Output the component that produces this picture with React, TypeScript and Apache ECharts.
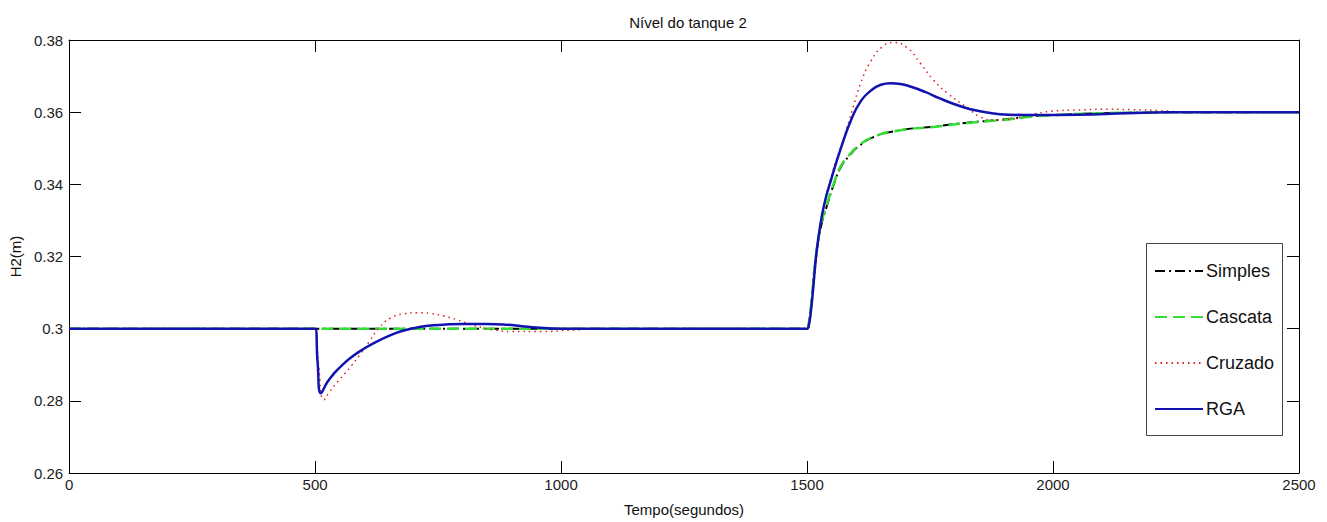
import React, { useEffect, useRef } from "react";
import * as echarts from "echarts";

const xTicks = [0, 500, 1000, 1500, 2000, 2500];
const yTicks = [0.26, 0.28, 0.3, 0.32, 0.34, 0.36, 0.38];

const seriesNames = ["Simples", "Cascata", "Cruzado", "RGA"];

const simplesT = [0, 500, 1000, 1500, 1504, 1510, 1517, 1528, 1541, 1555, 1568, 1585, 1602, 1635, 1690, 1757, 1826, 1893, 1954, 2000, 2100, 2200, 2260, 2500];
const simplesV = [0.3, 0.3, 0.3, 0.3, 0.3018, 0.3088, 0.3185, 0.328, 0.3343, 0.3402, 0.3446, 0.3478, 0.3502, 0.3531, 0.355, 0.356, 0.3571, 0.3579, 0.3588, 0.3592, 0.3597, 0.3599, 0.36, 0.36];

const cascataT = [0, 500, 1000, 1500, 1504, 1510, 1517, 1528, 1541, 1555, 1568, 1585, 1602, 1635, 1690, 1757, 1826, 1893, 1954, 2000, 2100, 2200, 2260, 2500];
const cascataV = [0.3, 0.3, 0.3, 0.3, 0.302, 0.309, 0.319, 0.3285, 0.3347, 0.3405, 0.3449, 0.348, 0.3504, 0.3532, 0.355, 0.3559, 0.357, 0.3578, 0.3587, 0.3592, 0.3597, 0.3599, 0.36, 0.36];

const cruzadoT = [0, 500, 507, 518, 530, 545, 560, 575, 590, 610, 630, 654, 680, 708, 735, 762, 790, 815, 840, 865, 900, 960, 1020, 1100, 1500, 1505, 1510, 1518, 1530, 1551, 1575, 1592, 1609, 1629, 1653, 1676, 1704, 1730, 1757, 1785, 1826, 1852, 1880, 1910, 1950, 2000, 2050, 2100, 2160, 2232, 2260, 2500];
const cruzadoV = [0.3, 0.3, 0.29, 0.2803, 0.2826, 0.2852, 0.2875, 0.2899, 0.2926, 0.2964, 0.3002, 0.303, 0.3041, 0.3044, 0.3042, 0.3035, 0.3024, 0.3012, 0.3003, 0.2996, 0.2992, 0.2992, 0.2996, 0.3, 0.3, 0.3015, 0.307, 0.318, 0.331, 0.343, 0.353, 0.3606, 0.368, 0.374, 0.3781, 0.3793, 0.3778, 0.3736, 0.3689, 0.3653, 0.3612, 0.3587, 0.3578, 0.358, 0.3592, 0.3603, 0.3606, 0.3608, 0.3607, 0.3603, 0.36, 0.36];

const rgaT = [0, 500, 505, 512, 525, 540, 555, 575, 600, 625, 650, 675, 700, 730, 760, 800, 850, 890, 920, 950, 1000, 1500, 1503, 1508, 1513, 1518, 1525, 1535, 1550, 1570, 1590, 1610, 1630, 1650, 1670, 1690, 1710, 1740, 1770, 1800, 1830, 1866, 1910, 1960, 2050, 2150, 2232, 2500];
const rgaV = [0.3, 0.3, 0.291, 0.2821, 0.2852, 0.2878, 0.2899, 0.2922, 0.2945, 0.2964, 0.298, 0.2993, 0.3001, 0.3008, 0.3011, 0.3013, 0.3013, 0.3011, 0.3007, 0.3003, 0.3, 0.3, 0.3005, 0.305, 0.312, 0.3195, 0.327, 0.3345, 0.3418, 0.3505, 0.358, 0.3632, 0.366, 0.3676, 0.368, 0.3678, 0.3671, 0.3656, 0.3638, 0.3622, 0.3609, 0.3599, 0.3593, 0.3592, 0.3593, 0.3597, 0.36, 0.36];

const FONT = "'Liberation Sans', Arial, sans-serif";

function pairs(t: number[], v: number[]) {
  return t.map((x, i) => [x, v[i]]);
}

export default function App() {
  const ref = useRef<HTMLDivElement>(null);
  useEffect(() => {
    if (!ref.current) return;
    const chart = echarts.init(ref.current, null, { renderer: "svg" });
    const axisCommon = {
      type: "value" as const,
      axisLine: { show: true, onZero: false, lineStyle: { color: "#000", width: 1 } },
      axisTick: { show: true, inside: true, length: 12, lineStyle: { color: "#000" } },
      splitLine: { show: false },
    };
    const fmt = (v: number) => String(Math.round(v * 1000) / 1000);
    chart.setOption({
      animation: false,
      backgroundColor: "#fff",
      title: {
        text: "Nível do tanque 2",
        left: 683,
        top: 10,
        textAlign: "center",
        textStyle: { fontSize: 15, fontWeight: "normal", color: "#111", fontFamily: FONT },
      },
      grid: { left: 68, top: 40, right: 28, bottom: 49 },
      xAxis: [
        {
          ...axisCommon,
          position: "bottom",
          min: xTicks[0],
          max: xTicks[xTicks.length - 1],
          interval: xTicks[1] - xTicks[0],
          axisLabel: { fontSize: 15, color: "#222", margin: 4, fontFamily: FONT, formatter: fmt },
          name: "Tempo(segundos)",
          nameLocation: "middle",
          nameGap: 29,
          nameTextStyle: { fontSize: 15, color: "#111", fontFamily: FONT },
        },
        {
          ...axisCommon,
          position: "top",
          min: xTicks[0],
          max: xTicks[xTicks.length - 1],
          interval: xTicks[1] - xTicks[0],
          axisLabel: { show: false },
        },
      ],
      yAxis: [
        {
          ...axisCommon,
          position: "left",
          min: yTicks[0],
          max: yTicks[yTicks.length - 1],
          interval: 0.02,
          axisLabel: { fontSize: 15, color: "#222", margin: 6, fontFamily: FONT, formatter: fmt },
          name: "H2(m)",
          nameLocation: "middle",
          nameGap: 46,
          nameTextStyle: { fontSize: 15, color: "#111", fontFamily: FONT },
        },
        {
          ...axisCommon,
          position: "right",
          min: yTicks[0],
          max: yTicks[yTicks.length - 1],
          interval: 0.02,
          axisLabel: { show: false },
        },
      ],
      graphic: [
        {
          type: "rect",
          left: 1146,
          top: 243,
          shape: { width: 136, height: 192 },
          style: { fill: "#fff", stroke: "#444", lineWidth: 1 },
          z: 50,
        },
      ],
      legend: {
        data: seriesNames,
        orient: "vertical",
        left: 1154,
        top: 262,
        padding: 0,
        itemGap: 28,
        itemWidth: 48,
        itemHeight: 14,
        z: 60,
        itemStyle: { opacity: 0 },
        textStyle: { fontSize: 18, color: "#111", fontFamily: FONT, lineHeight: 18, padding: [0, 0, 0, -2] },
      },
      series: [
        {
          name: seriesNames[0],
          type: "line",
          data: pairs(simplesT, simplesV),
          symbol: "none",
          smooth: 0.5,
          lineStyle: { color: "#000", width: 2, type: [10, 4, 2, 4] },
          itemStyle: { color: "#000" },
        },
        {
          name: seriesNames[1],
          type: "line",
          data: pairs(cascataT, cascataV),
          symbol: "none",
          smooth: 0.5,
          lineStyle: { color: "#33dd33", width: 2.5, type: [12, 6] },
          itemStyle: { color: "#33dd33" },
        },
        {
          name: seriesNames[2],
          type: "line",
          data: pairs(cruzadoT, cruzadoV),
          symbol: "none",
          smooth: 0.5,
          lineStyle: { color: "#e02020", width: 1.5, type: [1.5, 4] },
          itemStyle: { color: "#e02020" },
        },
        {
          name: seriesNames[3],
          type: "line",
          data: pairs(rgaT, rgaV),
          symbol: "none",
          smooth: 0.5,
          lineStyle: { color: "#1212b0", width: 2.5 },
          itemStyle: { color: "#1212b0" },
        },
      ],
    });
    return () => chart.dispose();
  }, []);
  return (
    <div
      ref={ref}
      style={{ position: "fixed", left: 0, top: 0, width: 1327, height: 522, background: "#fff" }}
    />
  );
}
